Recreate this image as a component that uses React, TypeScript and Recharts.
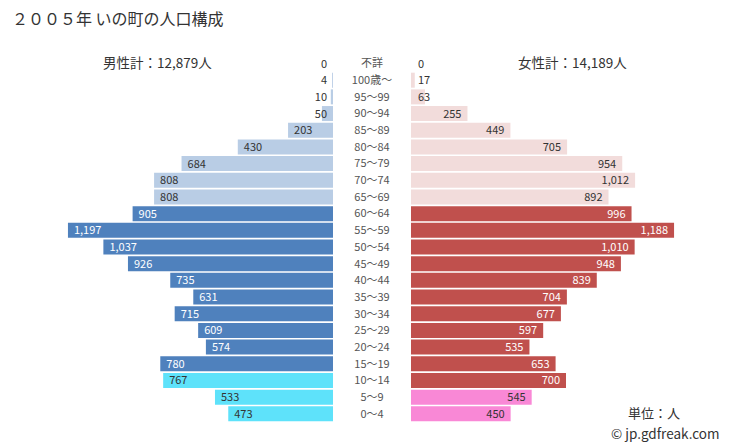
import { BarChart, Bar, XAxis, YAxis, Cell, LabelList } from "recharts"

const ages = [
  "不詳", "100歳～", "95～99", "90～94", "85～89", "80～84", "75～79", "70～74", "65～69",
  "60～64", "55～59", "50～54", "45～49", "40～44", "35～39", "30～34", "25～29",
  "20～24", "15～19", "10～14", "5～9", "0～4",
]
const male = [0, 4, 10, 50, 203, 430, 684, 808, 808, 905, 1197, 1037, 926, 735, 631, 715, 609, 574, 780, 767, 533, 473]
const female = [0, 17, 63, 255, 449, 705, 954, 1012, 892, 996, 1188, 1010, 948, 839, 704, 677, 597, 535, 653, 700, 545, 450]

// colour groups per row: "old" | "work" | "young"
const maleGroup = ages.map((_, i) => (i <= 8 ? "old" : i <= 18 ? "work" : "young"))
const femaleGroup = ages.map((_, i) => (i <= 8 ? "old" : i <= 19 ? "work" : "young"))

const maleColors: Record<string, string> = { old: "#b9cde5", work: "#4f81bd", young: "#5ee2fa" }
const femaleColors: Record<string, string> = { old: "#f2dcdb", work: "#c0504d", young: "#f988d6" }

const data = ages.map((age, i) => ({ age, male: male[i], female: female[i], mg: maleGroup[i], fg: femaleGroup[i] }))

const FONT = "Meiryo, 'Noto Sans CJK JP', 'Noto Sans', sans-serif"
const MAX = 1400
const H = 445
const PLOT_TOP = 55
const PLOT_BOTTOM = 23
const LEFT_PLOT_X = 23
const LEFT_PLOT_W = 310
const MID_W = 78
const BAND = (H - PLOT_TOP - PLOT_BOTTOM) / ages.length

const fmt = (v: number) => v.toLocaleString("en-US")
const tiny = (v: any) => (v === 0 ? 0.01 : 0)
const rowOf = (y: number, h: number) => Math.floor((y + h / 2 - PLOT_TOP) / BAND)

const MaleLabel = (props: any) => {
  const { x, y, width, height, value } = props
  const l = Math.min(x, x + width)
  const r = Math.max(x, x + width)
  const w = r - l
  const fill = maleGroup[rowOf(y, height)] === "work" ? "#fff" : "#333"
  const cy = y + height / 2 + 4
  if (w > 30) {
    return <text x={l + 6} y={cy} fontSize={11} fill={fill} fontFamily={FONT}>{fmt(value)}</text>
  }
  return <text x={r - 6} y={cy} fontSize={11} fill="#333" textAnchor="end" fontFamily={FONT}>{fmt(value)}</text>
}

const FemaleLabel = (props: any) => {
  const { x, y, width, height, value } = props
  const l = Math.min(x, x + width)
  const r = Math.max(x, x + width)
  const w = r - l
  const fill = femaleGroup[rowOf(y, height)] === "work" ? "#fff" : "#333"
  const cy = y + height / 2 + 4
  if (w > 30) {
    return <text x={r - 6} y={cy} fontSize={11} fill={fill} textAnchor="end" fontFamily={FONT}>{fmt(value)}</text>
  }
  return <text x={l + 7} y={cy} fontSize={11} fill="#333" fontFamily={FONT}>{fmt(value)}</text>
}

const AgeTick = (props: any) => {
  const { y, payload } = props
  return (
    <text x={LEFT_PLOT_X + LEFT_PLOT_W + MID_W / 2} y={y + 4} fontSize={11} fill="#555" textAnchor="middle" fontFamily={FONT}>
      {payload.value}
    </text>
  )
}

export default function App() {
  return (
    <div style={{ position: "absolute", left: 0, top: 0, width: 729, height: H, background: "#fff", fontFamily: FONT }}>
      <div style={{ position: "absolute", left: 12, top: 6, fontSize: 16, color: "#333", whiteSpace: "nowrap" }}>
        ２００５年 いの町の人口構成
      </div>
      <div style={{ position: "absolute", left: 103, top: 52, fontSize: 13.5, color: "#333", whiteSpace: "nowrap" }}>
        男性計：12,879人
      </div>
      <div style={{ position: "absolute", left: 518, top: 52, fontSize: 13.5, color: "#333", whiteSpace: "nowrap" }}>
        女性計：14,189人
      </div>

      <div style={{ position: "absolute", left: 0, top: 0 }}>
        <BarChart
          width={LEFT_PLOT_X + LEFT_PLOT_W + MID_W}
          height={H}
          data={data}
          layout="vertical"
          barCategoryGap={1}
          margin={{ top: PLOT_TOP, bottom: PLOT_BOTTOM, left: LEFT_PLOT_X, right: 0 }}
        >
          <XAxis type="number" domain={[0, MAX]} reversed hide allowDataOverflow />
          <YAxis
            type="category"
            dataKey="age"
            orientation="right"
            width={MID_W}
            axisLine={false}
            tickLine={false}
            interval={0}
            tick={<AgeTick />}
          />
          <Bar dataKey="male" isAnimationActive={false} minPointSize={tiny}>
            {data.map((d, i) => (
              <Cell key={i} fill={maleColors[d.mg]} />
            ))}
            <LabelList dataKey="male" content={<MaleLabel />} />
          </Bar>
        </BarChart>
      </div>

      <div style={{ position: "absolute", left: LEFT_PLOT_X + LEFT_PLOT_W + MID_W, top: 0 }}>
        <BarChart
          width={LEFT_PLOT_W + 8}
          height={H}
          data={data}
          layout="vertical"
          barCategoryGap={1}
          margin={{ top: PLOT_TOP, bottom: PLOT_BOTTOM, left: 0, right: 8 }}
        >
          <XAxis type="number" domain={[0, MAX]} hide allowDataOverflow />
          <YAxis type="category" dataKey="age" hide />
          <Bar dataKey="female" isAnimationActive={false} minPointSize={tiny}>
            {data.map((d, i) => (
              <Cell key={i} fill={femaleColors[d.fg]} />
            ))}
            <LabelList dataKey="female" content={<FemaleLabel />} />
          </Bar>
        </BarChart>
      </div>

      <div style={{ position: "absolute", left: 628, top: 403, fontSize: 13, color: "#333" }}>単位：人</div>
      <div style={{ position: "absolute", left: 611, top: 423, fontSize: 13.5, color: "#333", whiteSpace: "nowrap" }}>
        © jp.gdfreak.com
      </div>
    </div>
  )
}
